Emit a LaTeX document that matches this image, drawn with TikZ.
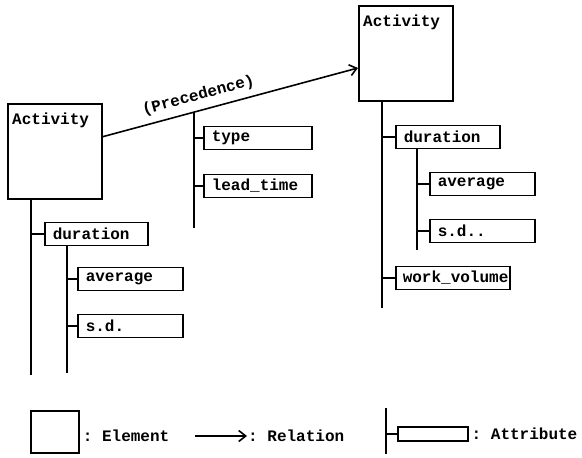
\documentclass[tikz,border=0pt]{standalone}
\usepackage{fontspec}
\setmonofont{Liberation Mono}
\usetikzlibrary{positioning,arrows.meta}

\begin{document}
\begin{tikzpicture}[
  x=1pt, y=-1pt,
  font=\ttfamily\bfseries\fontsize{16}{19}\selectfont,
  elem/.style={draw, line width=1.7pt, minimum width=94pt, minimum height=95pt, anchor=north west, inner sep=0pt},
  ename/.style={anchor=north west, inner xsep=5pt, inner ysep=10pt},
  attr/.style={draw, line width=1.5pt, anchor=west, minimum height=23pt, inner xsep=8pt, text width=#1, align=left},
  attr/.default=88pt,
  link/.style={line width=1.8pt},
  rel/.style={line width=1.6pt, -{Straight Barb[length=7pt,width=11pt]}}
]
\useasboundingbox (0,0) rectangle (582,458);

% elements
\node[elem, label={[ename]north west:Activity}] (act1) at (7,103) {};
\node[elem, label={[ename]north west:Activity}] (act2) at (358,5) {};

% relation
\draw[rel] (act1.17) -- node[pos=0.39, sloped, above=3pt] (prec) {(Precedence)}
  coordinate[pos=0.357] (relx) (act2.197);
\coordinate (relend) at (192,228);
\node[attr=92pt] (type) at (203,138) {type};
\node[attr=92pt] (lead) at (203,186) {lead\_time};
\draw[link] (relx) -- (relx |- relend);
\draw[link] (relx |- type.west) -- (type.west);
\draw[link] (relx |- lead.west) -- (lead.west);

% attributes of the first activity
\coordinate (trunk1) at (31,375);
\coordinate (trunk2) at (67,373);
\node[attr=87pt] (dur1) at (44,234) {duration};
\node[attr=89pt] (avg1) at (77,279) {average};
\node[attr=89pt] (sd1) at (77,326) {s.d.};
\draw[link] (act1.south -| trunk1) -- (trunk1);
\draw[link] (trunk1 |- dur1.west) -- (dur1.west);
\draw[link] (dur1.south -| trunk2) -- (trunk2);
\draw[link] (trunk2 |- avg1.west) -- (avg1.west);
\draw[link] (trunk2 |- sd1.west) -- (sd1.west);

% attributes of the second activity
\coordinate (trunk3) at (382,308);
\coordinate (trunk4) at (417,250);
\node[attr] (dur2) at (395,137) {duration};
\node[attr=89pt] (avg2) at (429,184) {average};
\node[attr=89pt] (sd2) at (429,231) {s.d..};
\node[attr=100pt, inner xsep=7pt] (wv) at (395,278) {work\_volume};
\draw[link] (act2.south -| trunk3) -- (trunk3);
\draw[link] (trunk3 |- dur2.west) -- (dur2.west);
\draw[link] (trunk3 |- wv.west) -- (wv.west);
\draw[link] (dur2.south -| trunk4) -- (trunk4);
\draw[link] (trunk4 |- avg2.west) -- (avg2.west);
\draw[link] (trunk4 |- sd2.west) -- (sd2.west);

% legend
\node[draw, line width=1.7pt, minimum width=48pt, minimum height=42pt, anchor=north west, inner sep=0pt] (lelem) at (30,410) {};
\node[right=2pt of lelem, yshift=-4pt, inner sep=1pt] (telem) {:~Element};
\coordinate (rfrom) at (195,436);
\node[anchor=west, inner sep=1pt] (trel) at (247,436) {:~Relation};
\draw[rel] (rfrom) -- (trel.west);
\coordinate (ltop) at (386,408);
\coordinate (lbot) at (386,454);
\node[draw, line width=1.5pt, minimum width=70pt, minimum height=14pt, anchor=west, inner sep=0pt] (lattr) at (397,434) {};
\node[right=2pt of lattr, inner sep=1pt] (tattr) {:~Attribute};
\draw[link] (ltop) -- (lbot);
\draw[link] (ltop |- lattr.west) -- (lattr.west);
\end{tikzpicture}
\end{document}
